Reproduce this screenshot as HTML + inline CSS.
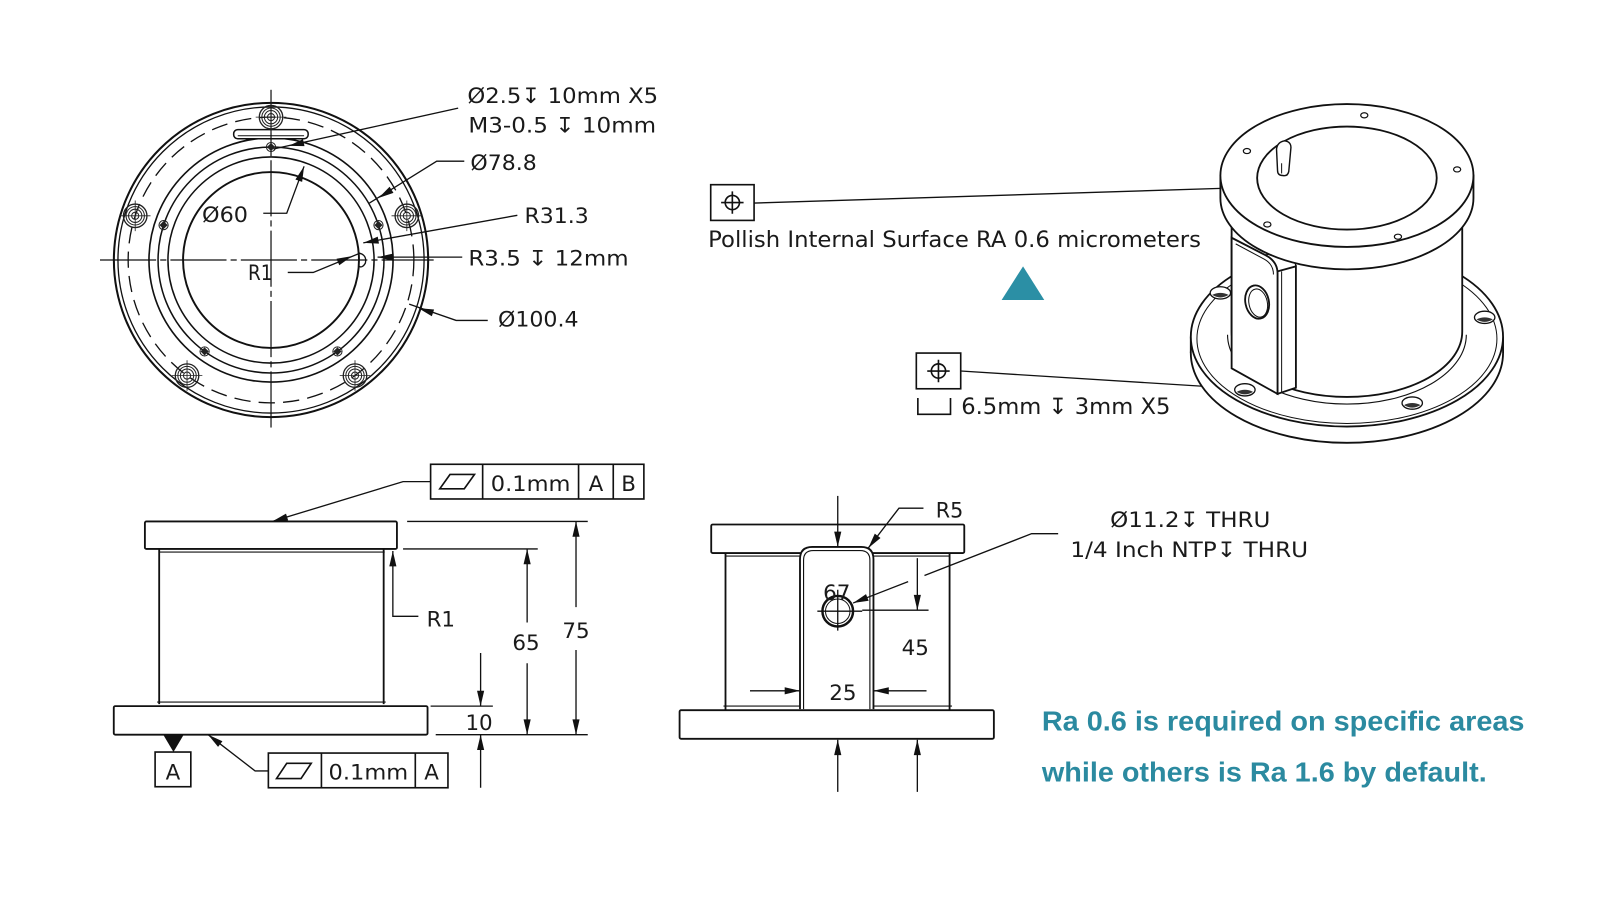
<!DOCTYPE html>
<html><head><meta charset="utf-8">
<style>
html,body{margin:0;padding:0;background:#fff;}
svg{display:block;}
.t{font-family:"DejaVu Sans","Liberation Sans",sans-serif;fill:#1a1a1a;}
.teal{font-family:"Liberation Sans",sans-serif;font-weight:bold;fill:#2b8aa0;}
</style></head>
<body>
<svg width="1600" height="900" viewBox="0 0 1600 900" xmlns="http://www.w3.org/2000/svg">
<defs>
<g id="bh" fill="none" stroke="#222">
<circle r="11.5" stroke-width="1.3"/><circle r="9" stroke-width="1"/><circle r="6.5" stroke-width="1"/><circle r="3.5" stroke-width="1"/>
<path d="M-15,0H15M0,-15V15" stroke-width="0.8"/>
</g>
<g id="dm">
<circle r="4.5" fill="none" stroke="#222" stroke-width="1"/>
<path d="M0,-4 L4,0 L0,4 L-4,0 Z" fill="#222"/>
</g>
<g id="tp" fill="none" stroke="#111" stroke-width="1.6">
<circle r="7"/><path d="M-11,0H11M0,-11V11"/>
</g>
</defs>
<rect width="1600" height="900" fill="#fff"/>
<g transform="scale(1.0204)">

<!-- ============ TOP VIEW ============ -->
<g fill="none" stroke="#111">
<circle cx="265.6" cy="254.8" r="154" stroke-width="2"/>
<circle cx="265.6" cy="254.8" r="150" stroke-width="1.3"/>
<circle cx="265.6" cy="254.8" r="140" stroke-width="1.3" stroke-dasharray="16 8"/>
<circle cx="265.6" cy="254.8" r="119.6" stroke-width="1.6"/>
<circle cx="265.6" cy="254.8" r="110.7" stroke-width="1.5"/>
<circle cx="265.6" cy="254.8" r="101" stroke-width="1.5"/>
<circle cx="265.6" cy="254.8" r="86.2" stroke-width="1.9"/>
<rect x="229" y="127" width="73" height="9" rx="4" stroke-width="1.5" fill="#fff"/>
<path d="M233,133 H298" stroke-width="1"/>
<path d="M351.8,248 Q360,250 358,258 Q355,263 351.8,261" stroke-width="1.3"/>
<path d="M265.6,88 V422" stroke-width="1.2" stroke-dasharray="55 4 6 4"/>
<path d="M98,254.8 H425" stroke-width="1.2" stroke-dasharray="55 4 6 4"/>
</g>
<use href="#bh" x="265.6" y="114.8"/>
<use href="#bh" x="398.7" y="211.5"/>
<use href="#bh" x="132.5" y="211.5"/>
<use href="#bh" x="183.3" y="368.1"/>
<use href="#bh" x="347.9" y="368.1"/>
<use href="#dm" x="265.6" y="144.1"/>
<use href="#dm" x="370.9" y="220.6"/>
<use href="#dm" x="160.3" y="220.6"/>
<use href="#dm" x="200.5" y="344.4"/>
<use href="#dm" x="330.7" y="344.4"/>

<!-- leaders top view -->
<g fill="none" stroke="#111" stroke-width="1.3">
<path d="M449,106 L268,146"/>
<path d="M455,158 H428 L362,199"/>
<path d="M258,209 H281 L298,163"/>
<path d="M507,211 L356,238"/>
<path d="M453,252 H370"/>
<path d="M282,267 H307 L353,248"/>
<path d="M478,314 H447 L401,298"/>
</g>
<g fill="#111">
<polygon points="283,143 296.9,136.3 298.4,143.2"/>
<polygon points="371,194 381.8,183.0 385.6,189.0"/>
<polygon points="298,163 296.1,178.3 289.5,175.9"/>
<polygon points="356,238 370.2,231.9 371.4,238.8"/>
<polygon points="370,252 385,248.5 385,255.5"/>
<polygon points="345,251 332.5,260.0 329.8,253.6"/>
<polygon points="410,302 425.4,303.3 423.2,309.9"/>
</g>
<g class="t" font-size="21">
<text x="458" y="101" textLength="187" lengthAdjust="spacingAndGlyphs">Ø2.5↧ 10mm X5</text>
<text x="459" y="130" textLength="184" lengthAdjust="spacingAndGlyphs">M3-0.5 ↧ 10mm</text>
<text x="461" y="166.5" textLength="65" lengthAdjust="spacingAndGlyphs">Ø78.8</text>
<text x="198" y="217.5" textLength="45" lengthAdjust="spacingAndGlyphs">Ø60</text>
<text x="514" y="218.6" textLength="63" lengthAdjust="spacingAndGlyphs">R31.3</text>
<text x="459" y="260" textLength="157" lengthAdjust="spacingAndGlyphs">R3.5 ↧ 12mm</text>
<text x="243" y="274.5" textLength="24" lengthAdjust="spacingAndGlyphs">R1</text>
<text x="488" y="320" textLength="79" lengthAdjust="spacingAndGlyphs">Ø100.4</text>
</g>

<!-- ============ MIDDLE ANNOTATIONS ============ -->
<rect x="696.5" y="181" width="42.5" height="35" fill="#fff" stroke="#111" stroke-width="1.6"/>
<use href="#tp" x="717.7" y="198.5"/>
<path d="M739,199 L1232,183.5" fill="none" stroke="#111" stroke-width="1.3"/>
<polygon points="1232,183.5 1217.1,187.5 1216.9,180.5" fill="#111"/>
<text class="t" x="694" y="242" font-size="22" textLength="483" lengthAdjust="spacingAndGlyphs">Pollish Internal Surface RA 0.6 micrometers</text>
<polygon points="981.6,294 1023.4,294 1002.6,261" fill="#2b8fa5"/>

<rect x="898" y="346" width="43.5" height="35" fill="#fff" stroke="#111" stroke-width="1.6"/>
<use href="#tp" x="919.7" y="363.6"/>
<path d="M941.5,363.6 L1218,381" fill="none" stroke="#111" stroke-width="1.3"/>
<polygon points="1208,377 1192.8,379.75 1193.2,372.75" fill="#111"/>
<path d="M899.5,390 V406 H931.5 V390" fill="none" stroke="#111" stroke-width="1.6"/>
<text class="t" x="942" y="405.6" font-size="22" textLength="205" lengthAdjust="spacingAndGlyphs">6.5mm ↧ 3mm X5</text>

<!-- ============ ISO VIEW ============ -->
<g stroke="#111" stroke-width="1.8">
<ellipse cx="1320" cy="346" rx="153" ry="88" fill="#fff"/>
<rect x="1167" y="330" width="306" height="16" fill="#fff" stroke="none"/>
<path d="M1167,330V346M1473,330V346" fill="none"/>
<ellipse cx="1320" cy="330" rx="153" ry="88" fill="#fff"/>
<ellipse cx="1320" cy="332" rx="147" ry="83" fill="none" stroke-width="1"/>
<g stroke-width="1.3">
<ellipse cx="1196" cy="287" rx="10" ry="6" fill="#fff"/><path d="M1188,289 Q1196,294 1204,289 Q1196,285 1188,289Z" fill="#333" stroke="none"/>
<ellipse cx="1455" cy="311" rx="10" ry="6" fill="#fff"/><path d="M1447,313 Q1455,318 1463,313 Q1455,309 1447,313Z" fill="#333" stroke="none"/>
<ellipse cx="1220" cy="382" rx="10" ry="6" fill="#fff"/><path d="M1212,384 Q1220,389 1228,384 Q1220,380 1212,384Z" fill="#333" stroke="none"/>
<ellipse cx="1384" cy="395" rx="10" ry="6" fill="#fff"/><path d="M1376,397 Q1384,402 1392,397 Q1384,393 1376,397Z" fill="#333" stroke="none"/>
</g>
<path d="M1203,328 A117,68 0 0 0 1437,328" fill="none" stroke-width="1.1"/>
<path d="M1207,210 V325 A113,64 0 0 0 1433,325 V210 Z" fill="#fff"/>
<path d="M1252,266 L1270,261 V380 L1252,386 Z" fill="#fff"/>
<path d="M1256,266 V384" fill="none" stroke-width="1"/>
<path d="M1207,233 L1240,250 Q1252,256 1252,268 V386 L1207,361 Z" fill="#fff"/>
<path d="M1211,239 L1239,254 Q1248,259 1248,269" fill="none" stroke-width="1"/>
<path d="M1240,250 L1258,245 Q1269,250 1270,261" fill="none" stroke-width="1.3"/>
<ellipse cx="1232" cy="296" rx="11.5" ry="16.5" transform="rotate(-12 1232 296)" fill="#fff"/>
<ellipse cx="1233" cy="297" rx="9" ry="14" transform="rotate(-12 1233 297)" fill="none" stroke-width="1"/>
<path d="M1196,172 V194 A124,70 0 0 0 1444,194 V172 Z" fill="#fff"/>
<ellipse cx="1320" cy="172" rx="124" ry="70" fill="#fff"/>
<ellipse cx="1320" cy="174.5" rx="88" ry="50.5" fill="#fff"/>
<path d="M1251,146 Q1252,139 1259,138 Q1266,139 1265,146 L1263,168 Q1262,173 1257,172 Q1252,172 1252,167 Z" fill="#fff" stroke-width="1.4"/>
<path d="M1256,160 L1256,170" fill="none" stroke-width="1"/>
<g stroke-width="1.2" fill="#fff">
<ellipse cx="1337" cy="113" rx="3.5" ry="2.5"/>
<ellipse cx="1222" cy="148" rx="3.5" ry="2.5"/>
<ellipse cx="1428" cy="166" rx="3.5" ry="2.5"/>
<ellipse cx="1242" cy="220" rx="3.5" ry="2.5"/>
<ellipse cx="1370" cy="232" rx="3.5" ry="2.5"/>
</g>
</g>

<!-- ============ FRONT VIEW (bottom-left) ============ -->
<g fill="none" stroke="#111" stroke-width="1.8">
<rect x="142" y="511" width="247" height="27" rx="1.5" fill="#fff"/>
<path d="M156,541 H377" stroke-width="1.1"/>
<path d="M156,538 V690 M376,538 V690"/>
<path d="M154,688 H378" stroke-width="1.1"/>
<rect x="111.5" y="692" width="307.5" height="28" rx="1.5" fill="#fff"/>
</g>
<g fill="none" stroke="#111" stroke-width="1.3">
<path d="M399,511 H576 M395,538 H527 M422,692 H483 M427,720 H576"/>
<path d="M564.5,595 V511 M564.5,637 V720"/>
<path d="M516.6,610 V538 M516.6,650 V720"/>
<path d="M471,640 V692 M471,772 V720"/>
<path d="M410,604 H385 V540"/>
<path d="M422,472 H395 L267,511"/>
<path d="M263,755.5 H250 L204,720"/>
</g>
<g fill="#111">
<polygon points="564.5,511 561,526 568,526"/>
<polygon points="564.5,720 561,705 568,705"/>
<polygon points="516.6,538 513.1,553 520.1,553"/>
<polygon points="516.6,720 513.1,705 520.1,705"/>
<polygon points="471,692 467.5,677 474.5,677"/>
<polygon points="471,720 467.5,735 474.5,735"/>
<polygon points="385,540 381.5,555 388.5,555"/>
<polygon points="267,511 280.3,503.3 282.4,510.0"/>
<polygon points="204,720 218.0,726.4 213.7,732.0"/>
</g>
<g fill="#fff" stroke="#111" stroke-width="1.6">
<rect x="422" y="455" width="209" height="34"/>
<path d="M473,455 V489 M567,455 V489 M601,455 V489" fill="none"/>
<polygon points="431,479 455,479 465,465 441,465" fill="none"/>
<rect x="263" y="738" width="176" height="34"/>
<path d="M315,738 V772 M407,738 V772" fill="none"/>
<polygon points="271,763 295,763 305,748 281,748" fill="none"/>
<rect x="152" y="737" width="35" height="34"/>
</g>
<polygon points="160,720 180,720 170,737" fill="#111"/>
<g class="t" font-size="21" text-anchor="middle">
<text x="520" y="481" textLength="78" lengthAdjust="spacingAndGlyphs">0.1mm</text>
<text x="584" y="481">A</text>
<text x="616" y="481">B</text>
<text x="361" y="764" textLength="78" lengthAdjust="spacingAndGlyphs">0.1mm</text>
<text x="423" y="764">A</text>
<text x="169.5" y="764">A</text>
<text x="564.5" y="625">75</text>
<text x="515.5" y="637">65</text>
<text x="469.5" y="715.5">10</text>
<text x="432" y="614">R1</text>
</g>

<!-- ============ SIDE VIEW (bottom-middle) ============ -->
<g fill="none" stroke="#111" stroke-width="1.8">
<rect x="697" y="514" width="248" height="28" rx="1.5" fill="#fff"/>
<path d="M711,545 H931" stroke-width="1.1"/>
<path d="M711,542 V696 M930.6,542 V696"/>
<path d="M709,692 H933" stroke-width="1.1"/>
<path d="M784,695 V548 Q784,536 796,536 H844 Q856,536 856,548 V695" fill="#fff"/>
<path d="M787.5,695 V549 Q787.5,539.5 797,539.5 H843 Q852.5,539.5 852.5,549 V695" stroke-width="1.1"/>
<rect x="666" y="696" width="308" height="28" rx="1.5" fill="#fff"/>
<circle cx="821" cy="599" r="15" stroke-width="2.4"/>
<circle cx="821" cy="599" r="12" stroke-width="1"/>
</g>
<g fill="none" stroke="#111" stroke-width="1.3">
<path d="M801,599 H845 M821,578 V618"/>
<path d="M845,598 H910"/>
<path d="M821,486 V536"/>
<path d="M821,776 V725 M899,776 V725"/>
<path d="M905,498 H881 L851,537"/>
<path d="M899,547 V598"/>
<path d="M735,677 H784 M908,677 H856"/>
<path d="M1037,523 H1011 L906,564"/>
<path d="M890,570 L836,591"/>
</g>
<g fill="#111">
<polygon points="821,536 817.5,521 824.5,521"/>
<polygon points="821,725 817.5,740 824.5,740"/>
<polygon points="899,725 895.5,740 902.5,740"/>
<polygon points="851,537 857.3,523.0 862.9,527.2"/>
<polygon points="899,598 895.5,583 902.5,583"/>
<polygon points="784,677 769,673.5 769,680.5"/>
<polygon points="856,677 871,673.5 871,680.5"/>
<polygon points="836,591 848.7,582.3 851.3,588.8"/>
</g>
<g class="t" font-size="21">
<text x="917" y="507" textLength="27" lengthAdjust="spacingAndGlyphs">R5</text>
<text x="820" y="588" text-anchor="middle">67</text>
<text x="897" y="642" text-anchor="middle">45</text>
<text x="826" y="686" text-anchor="middle">25</text>
<text x="1088" y="516.5" textLength="157" lengthAdjust="spacingAndGlyphs">Ø11.2↧ THRU</text>
<text x="1049" y="546" textLength="233" lengthAdjust="spacingAndGlyphs">1/4 Inch NTP↧ THRU</text>
</g>

<!-- ============ TEAL NOTE ============ -->
<text class="teal" x="1021" y="716" font-size="27" textLength="473" lengthAdjust="spacingAndGlyphs">Ra 0.6 is required on specific areas</text>
<text class="teal" x="1021" y="766" font-size="27" textLength="436" lengthAdjust="spacingAndGlyphs">while others is Ra 1.6 by default.</text>

</g>
</svg>
</body></html>
